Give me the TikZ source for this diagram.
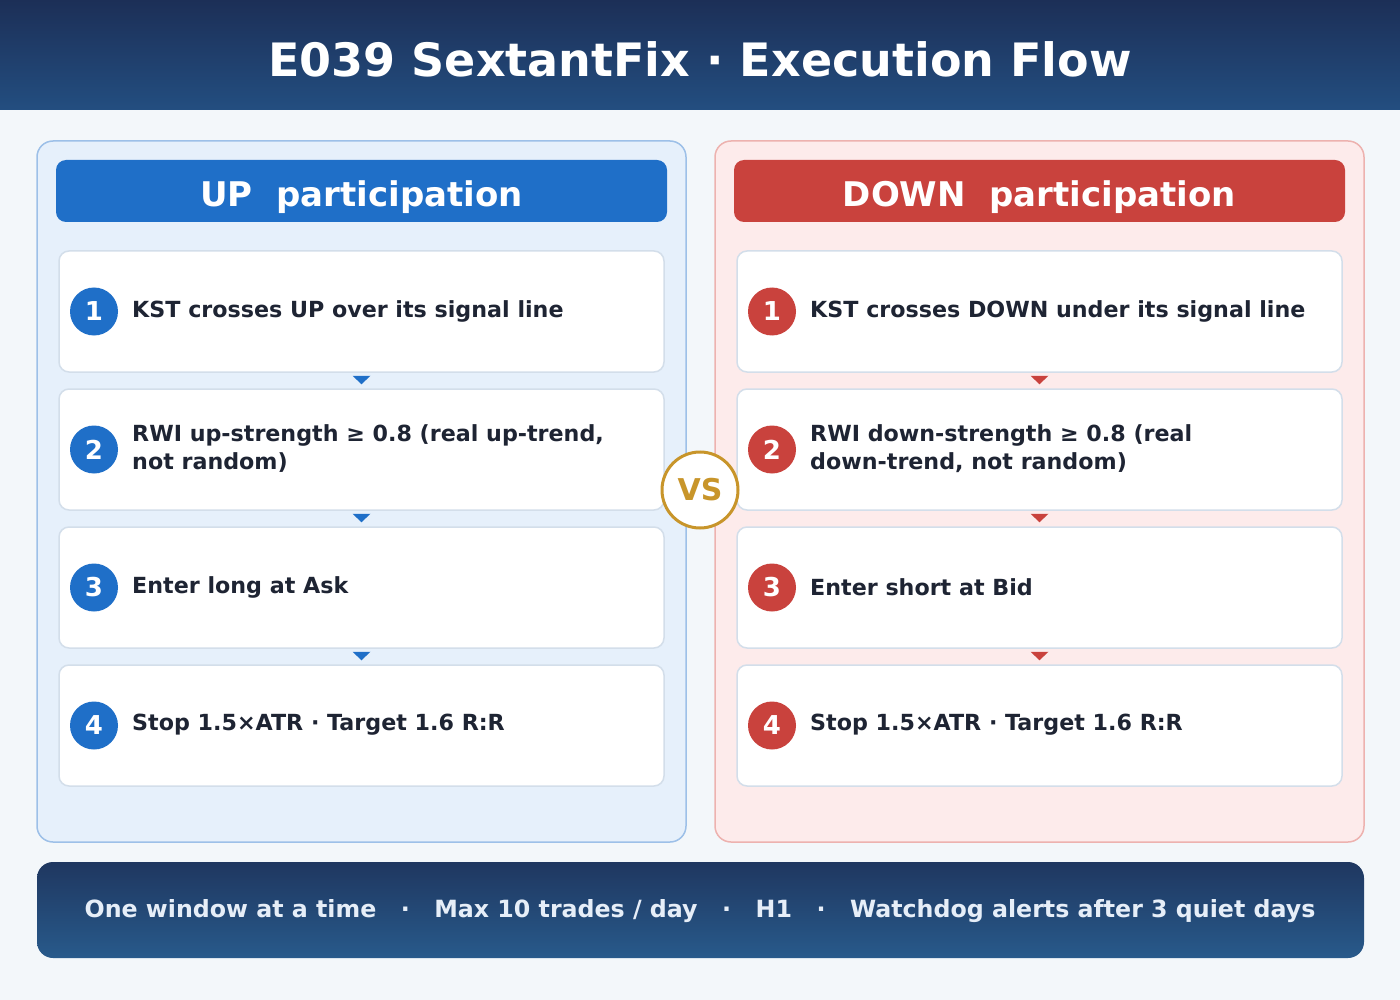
\documentclass[tikz,border=0pt]{standalone}
\usepackage{fontspec}
\setmainfont{DejaVu Sans}
\usetikzlibrary{calc}
\definecolor{bgc}{HTML}{F3F7FA}
\definecolor{hdtop}{HTML}{1C2F57}
\definecolor{hdbot}{HTML}{234E80}
\definecolor{ftop}{HTML}{1F3760}
\definecolor{fbot}{HTML}{285A8B}
\definecolor{upcol}{HTML}{1F6FC8}
\definecolor{dncol}{HTML}{C9423D}
\definecolor{uppanel}{HTML}{E6F0FB}
\definecolor{upedge}{HTML}{9DC0E8}
\definecolor{dnpanel}{HTML}{FDEBEB}
\definecolor{dnedge}{HTML}{EDB2AF}
\definecolor{cardedge}{HTML}{D3DEEA}
\definecolor{txt}{HTML}{1E2433}
\definecolor{gold}{HTML}{C8952A}
\definecolor{foottxt}{HTML}{E6EEF8}
\tikzset{
  panelbox/.style={draw, line width=1.5pt, rounded corners=16, minimum width=649, minimum height=701, inner sep=0},
  headbar/.style={rounded corners=10, minimum width=611, minimum height=62, inner sep=0},
  headtext/.style={text=white, inner sep=0, font=\fontsize{34}{40}\selectfont\bfseries},
  card/.style={draw=cardedge, fill=white, line width=1.5pt, rounded corners=10, minimum width=605, minimum height=121, inner sep=0},
  numdot/.style={circle, minimum size=48, inner sep=0, text=white, font=\fontsize{26}{30}\selectfont\bfseries},
  steptext/.style={anchor=west, text=txt, align=left, inner sep=0, font=\fontsize{22.2}{28}\selectfont\bfseries},
}
\newcommand{\fsep}{\hspace{24.5pt}·\hspace{24.5pt}}
\begin{document}
\begin{tikzpicture}[x=1pt,y=-1pt]
\useasboundingbox (0,0) rectangle (1400,1000);
\fill[bgc] (0,0) rectangle (1400,1000);
\shade[top color=hdtop, bottom color=hdbot] (0,0) rectangle (1400,110);
\node[text=white, font=\fontsize{46}{54}\selectfont\bfseries] (title) at (700,59) {E039 SextantFix · Execution Flow};

% panels
\node[panelbox, draw=upedge, fill=uppanel] (lp) at (361.5,491.5) {};
\node[panelbox, draw=dnedge, fill=dnpanel] (rp) at (1039.5,491.5) {};
\node[headbar, fill=upcol] (lh) at (361.5,191) {};
\node[headbar, fill=dncol] (rh) at (1039.5,191) {};
\node[headtext, anchor=base] (lht) at (361.5,207) {UP\ \ participation};
\node[headtext, anchor=base] (rht) at (1039.5,207) {DOWN\ \ participation};

% cards
\foreach \i/\y in {1/311.5,2/449.5,3/587.5,4/725.5}{
  \node[card] (u\i) at (361.5,\y) {};
  \node[numdot, fill=upcol] (un\i) at (94,\y) {\i};
  \node[card] (d\i) at (1039.5,\y) {};
  \node[numdot, fill=dncol] (dn\i) at (772,\y) {\i};
}
\node[steptext] (ut1) at (132,311) {KST crosses UP over its signal line};
\node[steptext] (ut2) at (132,449) {RWI up-strength ≥ 0.8 (real up-trend,\\not random)};
\node[steptext] (ut3) at (132,587) {Enter long at Ask};
\node[steptext] (ut4) at (132,725) {Stop 1.5×ATR · Target 1.6 R:R};
\node[steptext] (dt1) at (810,311) {KST crosses DOWN under its signal line};
\node[steptext] (dt2) at (810,449) {RWI down-strength ≥ 0.8 (real\\down-trend, not random)};
\node[steptext] (dt3) at (810,587) {Enter short at Bid};
\node[steptext] (dt4) at (810,725) {Stop 1.5×ATR · Target 1.6 R:R};

% flow triangles
\foreach \a/\b in {1/2,2/3,3/4}{
  \fill[upcol] ($(u\a.south)+(-9,3)$) -- ($(u\a.south)+(9,3)$) -- ($(u\b.north)+(0,-4)$) -- cycle;
  \fill[dncol] ($(d\a.south)+(-9,3)$) -- ($(d\a.south)+(9,3)$) -- ($(d\b.north)+(0,-4)$) -- cycle;
}

% VS
\node[circle, draw=gold, line width=3pt, fill=white, minimum size=76, inner sep=0, text=gold, font=\fontsize{30}{36}\selectfont\bfseries] (vs) at (700,490) {VS};

% footer
\shade[top color=ftop, bottom color=fbot, rounded corners=16] (37,862) rectangle (1364,958);
\node[text=foottxt, inner sep=0, font=\fontsize{23.7}{28}\selectfont\bfseries] (foot) at (700,911) {One window at a time\fsep Max 10 trades / day\fsep H1\fsep Watchdog alerts after 3 quiet days};
\end{tikzpicture}
\end{document}
